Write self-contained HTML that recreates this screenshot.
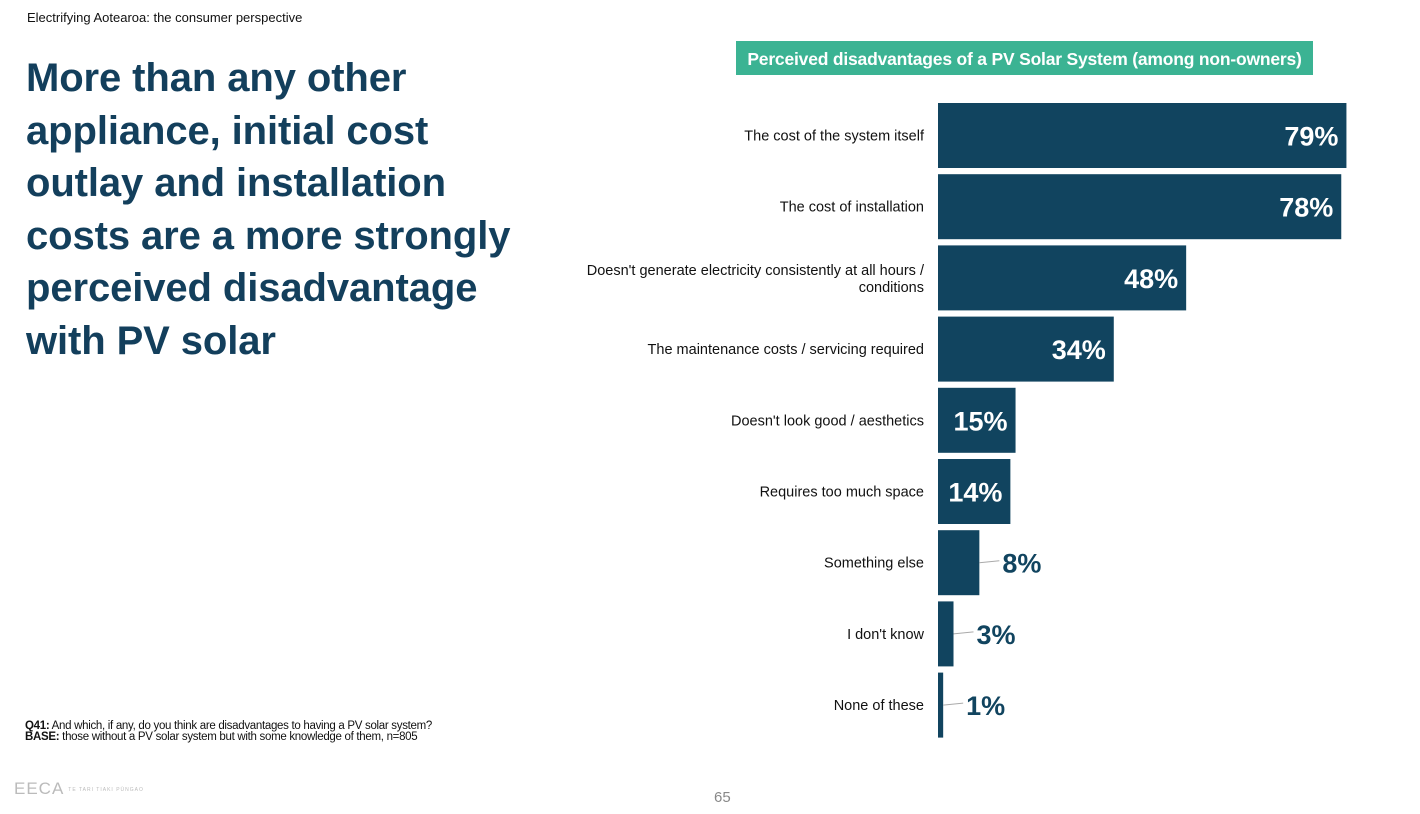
<!DOCTYPE html>
<html><head><meta charset="utf-8"><style>
body{margin:0;width:1420px;height:814px;background:#fff;position:relative;overflow:hidden;font-family:"Liberation Sans",sans-serif;}
.abs{position:absolute;}
</style></head><body>
<div class="abs" style="left:27px;top:10px;font-size:13px;color:#111;">Electrifying Aotearoa: the consumer perspective</div>
<div class="abs" style="left:26px;top:52px;white-space:nowrap;font-size:40px;line-height:52.5px;font-weight:bold;color:#133f5c;letter-spacing:-0.1px;">More than any other<br>appliance, initial cost<br>outlay and installation<br>costs are a more strongly<br>perceived disadvantage<br>with PV solar</div>
<div class="abs" style="left:736px;top:41px;width:577px;height:34px;background:#3bb393;color:#fff;font-weight:bold;font-size:17.5px;line-height:36px;text-align:center;letter-spacing:-0.2px;">Perceived disadvantages of a PV Solar System (among non-owners)</div>
<div class="abs" style="left:25px;top:721px;font-size:11.5px;line-height:11px;color:#111;letter-spacing:-0.3px;"><b>Q41:</b> And which, if any, do you think are disadvantages to having a PV solar system?<br><b>BASE:</b> those without a PV solar system but with some knowledge of them, n=805</div>
<div class="abs" style="left:14px;top:779px;font-size:17px;color:#bbb;letter-spacing:1px;">EECA<span style="font-size:5px;margin-left:4px;vertical-align:middle;">TE TARI TIAKI PŪNGAO</span></div>
<div class="abs" style="left:714px;top:789px;font-size:15px;color:#888;">65</div>
<svg class="abs" style="left:0;top:0" width="1420" height="814" id="chart"></svg>
<script>
const categories=["The cost of the system itself","The cost of installation","Doesn't generate electricity consistently at all hours / conditions","The maintenance costs / servicing required","Doesn't look good / aesthetics","Requires too much space","Something else","I don't know","None of these"];
const values=[79,78,48,34,15,14,8,3,1];
const x0=938,scale=5.17,y0=103,pitch=71.2,bh=65;
const xs=v=>x0+v*scale, ys=i=>y0+i*pitch;
const svg=document.getElementById('chart'),NS='http://www.w3.org/2000/svg';
function mk(t,a){const e=document.createElementNS(NS,t);for(const k in a)e.setAttribute(k,a[k]);svg.appendChild(e);return e;}
categories.forEach((c,i)=>{
 const v=values[i],y=ys(i),w=xs(v)-x0,cy=y+bh/2;
 const r=mk('rect',{x:x0,y:y,width:w,height:bh,fill:'#11445f'});
 
 
 const lines=c.length>50?["Doesn't generate electricity consistently at all hours /","conditions"]:[c];
 const t=mk('text',{x:924,y:cy+5-(lines.length-1)*8,'text-anchor':'end','font-size':14.5,fill:'#111','font-family':'Liberation Sans, sans-serif'});
 
 
 lines.forEach((l,j)=>{const s=document.createElementNS(NS,'tspan');s.setAttribute('x',924);if(j)s.setAttribute('dy',17);s.textContent=l;t.appendChild(s);});
 const inside=w>60;
 let lx;
 if(inside){lx=xs(v)-8;}else{const ex=xs(v);mk('line',{x1:ex,y1:cy,x2:ex+20,y2:cy-2,stroke:'#aaa','stroke-width':1});lx=ex+23;}
 const vt=mk('text',{x:lx,y:cy+10,'text-anchor':inside?'end':'start','font-size':27,'font-weight':'bold',fill:inside?'#fff':'#11445f','font-family':'Liberation Sans, sans-serif'});
 
 
 vt.textContent=v+'%';
});
</script>
</body></html>
